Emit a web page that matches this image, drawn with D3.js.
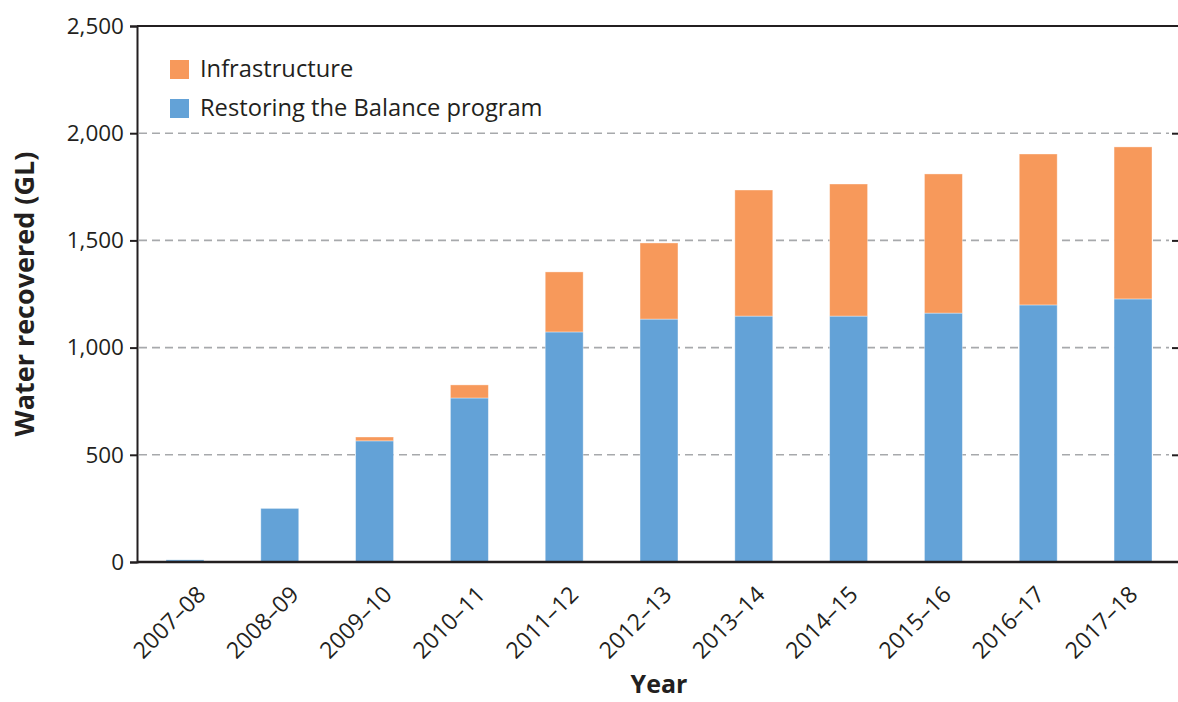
<!DOCTYPE html>
<html>
<head>
<meta charset="utf-8">
<script src="https://cdn.jsdelivr.net/npm/d3@7"></script>
<style>
  body { margin: 0; background: #fff; }
  text { font-family: "Open Sans", "Noto Sans", sans-serif; fill: #231f20; }
</style>
</head>
<body>
<svg id="chart"></svg>
<script>
// values (GL)
const years = ['2007–08', '2008–09', '2009–10', '2010–11', '2011–12', '2012–13',
  '2013–14', '2014–15', '2015–16', '2016–17', '2017–18'];
const restoring = [10, 250, 565, 765, 1073, 1133, 1147, 1147, 1161, 1199, 1227];
const infrastructure = [0, 0, 18, 61, 280, 355, 588, 616, 649, 704, 709];
const yTicks = [0, 500, 1000, 1500, 2000, 2500];
const seriesNames = ['Infrastructure', 'Restoring the Balance program'];
const colors = { restoring: '#63a2d7', infrastructure: '#f7995b' };

const W = 1178, H = 702;
const plotLeft = 137, plotTop = 26, plotBottom = 562;

const svg = d3.select('#chart').attr('width', W).attr('height', H);

const rows = years.map((y, i) => ({ year: y, restoring: restoring[i], infrastructure: infrastructure[i] }));
const stacked = d3.stack().keys(['restoring', 'infrastructure'])(rows);

const x = d3.scaleBand()
  .domain(years)
  .range([plotLeft, 1181])
  .paddingInner(0.6)
  .paddingOuter(0.306);

const y = d3.scaleLinear()
  .domain([0, 2500])
  .range([plotBottom, plotTop]);

// dashed gridlines
svg.append('g')
  .selectAll('line')
  .data(yTicks.filter(d => d > 0 && d < 2500))
  .enter().append('line')
  .attr('x1', plotLeft + 2)
  .attr('x2', 1169)
  .attr('y1', d => y(d))
  .attr('y2', d => y(d))
  .attr('stroke', '#a7a9ac')
  .attr('stroke-width', 1.6)
  .attr('stroke-dasharray', '8,5');

// bars
svg.append('g')
  .selectAll('g')
  .data(stacked)
  .enter().append('g')
  .attr('fill', d => colors[d.key])
  .selectAll('rect')
  .data(d => d)
  .enter().append('rect')
  .attr('x', d => x(d.data.year))
  .attr('width', x.bandwidth())
  .attr('y', d => y(d[1]))
  .attr('height', d => y(d[0]) - y(d[1]))
  .attr('stroke', 'rgba(255,255,255,0.45)')
  .attr('stroke-width', 0.8);

// left axis
const yAxis = svg.append('g')
  .attr('transform', `translate(${plotLeft}, 0)`)
  .call(d3.axisLeft(y).tickValues(yTicks).tickFormat(d3.format(',')).tickSize(7).tickPadding(6));
yAxis.select('.domain').attr('stroke', '#231f20').attr('stroke-width', 2);
yAxis.selectAll('.tick line').attr('stroke', '#231f20').attr('stroke-width', 2);
yAxis.selectAll('.tick text').attr('font-size', 22.5).attr('fill', '#231f20');

// right ticks (axis line itself sits just past the edge)
const rAxis = svg.append('g')
  .attr('transform', 'translate(1181, 0)')
  .call(d3.axisRight(y).tickValues(yTicks.filter(d => d > 0 && d < 2500)).tickSize(-9).tickFormat(''));
rAxis.select('.domain').remove();
rAxis.selectAll('.tick line').attr('stroke', '#231f20').attr('stroke-width', 2);

// top frame line
svg.append('line')
  .attr('x1', plotLeft).attr('x2', W)
  .attr('y1', plotTop).attr('y2', plotTop)
  .attr('stroke', '#231f20').attr('stroke-width', 2);

// bottom axis
const xAxis = svg.append('g')
  .attr('transform', `translate(0, ${plotBottom})`)
  .call(d3.axisBottom(x).tickSize(0));
xAxis.select('.domain').attr('stroke', '#231f20').attr('stroke-width', 2.4)
  .attr('d', `M${plotLeft},0H${W}`);
xAxis.selectAll('.tick text')
  .attr('font-size', 23)
  .attr('fill', '#231f20')
  .attr('text-anchor', 'end')
  .attr('x', 0).attr('y', 0).attr('dy', 0)
  .attr('transform', (d, i) => `translate(${22 - 1.6 * i}, 34) rotate(-45)`);

// axis titles
svg.append('text')
  .attr('transform', `translate(34, ${(plotTop + plotBottom) / 2}) rotate(-90)`)
  .attr('text-anchor', 'middle')
  .attr('font-size', 27)
  .attr('font-weight', 'bold')
  .text('Water recovered (GL)');

svg.append('text')
  .attr('x', 659)
  .attr('y', 693)
  .attr('text-anchor', 'middle')
  .attr('font-size', 25)
  .attr('font-weight', 'bold')
  .text('Year');

// legend
const legend = svg.append('g')
  .selectAll('g')
  .data(seriesNames)
  .enter().append('g')
  .attr('transform', (d, i) => `translate(170, ${60 + i * 39})`);
legend.append('rect')
  .attr('width', 19).attr('height', 19)
  .attr('fill', (d, i) => i === 0 ? colors.infrastructure : colors.restoring);
legend.append('text')
  .attr('x', 30)
  .attr('y', 17)
  .attr('font-size', 23.7)
  .text(d => d);
</script>
</body>
</html>
